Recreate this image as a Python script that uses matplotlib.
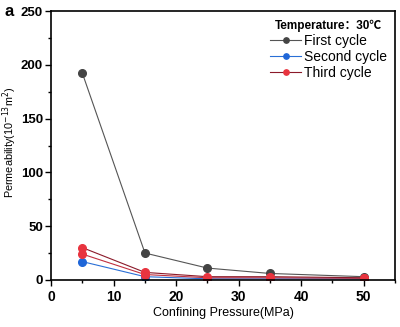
import matplotlib.pyplot as plt
from matplotlib.ticker import MultipleLocator

plt.rcParams['font.family'] = ['Liberation Sans', 'Noto Sans CJK SC', 'DejaVu Sans']

pressure = [5, 15, 25, 35, 50]
first_cycle = [192, 25, 11, 6, 3]
second_cycle = [17, 3, 1, 1, 1]
third_cycle = [30, 7, 3, 3, 2]
third_cycle_b = [24, 5, 2, 2, 1.5]

fig = plt.figure(figsize=(4, 3.27), dpi=100)
ax = fig.add_axes([0.128, 0.144, 0.8595, 0.822])

ax.plot(pressure, first_cycle, color='#555555', lw=0.8, marker='o', ms=5.5,
        mfc='#444444', mec='#444444', label='First cycle')
ax.plot(pressure, second_cycle, color='#2a6fd6', lw=0.8, marker='o', ms=5.5,
        mfc='#1f66d8', mec='#1f66d8', label='Second cycle')
ax.plot(pressure, third_cycle_b, color='#c03040', lw=0.8, marker='o', ms=5.5,
        mfc='#e8343f', mec='#e8343f')
ax.plot(pressure, third_cycle, color='#8b1a2a', lw=0.8, marker='o', ms=5.5,
        mfc='#e8343f', mec='#e8343f', label='Third cycle')

ax.set_xlim(0, 55)
ax.set_ylim(0, 250)
ax.xaxis.set_major_locator(MultipleLocator(10))
ax.xaxis.set_minor_locator(MultipleLocator(5))
ax.yaxis.set_major_locator(MultipleLocator(50))
ax.yaxis.set_minor_locator(MultipleLocator(25))
ax.tick_params(which='major', direction='out', length=4, width=1, labelsize=10)
ax.tick_params(axis='y', which='major', pad=2, labelsize=9.5)
ax.tick_params(which='minor', direction='out', length=2.5, width=1)
for lab in ax.get_xticklabels() + ax.get_yticklabels():
    lab.set_fontweight('bold')
for s in ax.spines.values():
    s.set_linewidth(1.2)

ax.set_xlabel('Confining Pressure(MPa)', fontsize=9, labelpad=2)
ax.set_ylabel('Permeability(10$^{-13}$m$^2$)', fontsize=7.8)
ax.yaxis.set_label_coords(-0.095, 0.51)

leg = ax.legend(loc='upper right', title='Temperature：30℃', frameon=False,
                fontsize=10, title_fontproperties={'weight': 'bold', 'size': 8.5},
                handlelength=2.2, handletextpad=0.2, labelspacing=0.15,
                borderaxespad=0.2, markerscale=0.7)

fig.text(0.012, 0.965, 'a', fontsize=12, fontweight='bold', va='center')

fig.savefig('out.png', dpi=100)
